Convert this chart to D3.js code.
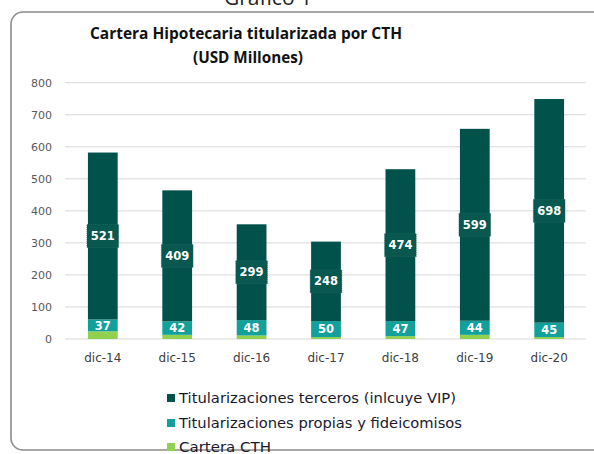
<!DOCTYPE html>
<html><head><meta charset="utf-8">
<script src="https://cdn.jsdelivr.net/npm/d3@7"></script>
<style>body{margin:0;background:#fff;}svg{display:block;}</style>
</head><body>
<svg id="c" width="594" height="454"></svg>
<script>
const categories = ["dic-14","dic-15","dic-16","dic-17","dic-18","dic-19","dic-20"];
const cartera = [24, 13, 11, 6, 9, 13, 6];
const propias = [37, 42, 48, 50, 47, 44, 45];
const terceros = [521, 409, 299, 248, 474, 599, 698];
const yTicks = [0,100,200,300,400,500,600,700,800];
const seriesNames = ["Titularizaciones terceros (inlcuye VIP)","Titularizaciones propias y fideicomisos","Cartera CTH"];
const colors = {terceros:"#00524A", propias:"#12A09A", cartera:"#92D050"};

const svg = d3.select("#c");
// outer frame
svg.append("rect").attr("x",11).attr("y",12).attr("width",620).attr("height",438)
  .attr("rx",12).attr("fill","none").attr("stroke","#8c8c8c").attr("stroke-width",1.6);
svg.append("text").attr("x",268).attr("y",5).attr("text-anchor","middle")
  .attr("font-family","Open Sans, sans-serif").attr("font-size",21).attr("fill","#222").text("Gráfico 1");

svg.append("text").attr("x",246).attr("y",39).attr("text-anchor","middle")
  .attr("font-family","Open Sans, sans-serif").attr("font-weight","bold").attr("font-size",15.5)
  .attr("textLength",312).attr("lengthAdjust","spacingAndGlyphs").attr("fill","#111")
  .text("Cartera Hipotecaria titularizada por CTH");
svg.append("text").attr("x",248).attr("y",63).attr("text-anchor","middle")
  .attr("font-family","Open Sans, sans-serif").attr("font-weight","bold").attr("font-size",15.5)
  .attr("textLength",110).attr("lengthAdjust","spacingAndGlyphs").attr("fill","#111")
  .text("(USD Millones)");

const x = d3.scaleBand().domain(categories).range([65.6,586.4]).paddingInner(0.6).paddingOuter(0.3);
const y = d3.scaleLinear().domain([0,800]).range([339,82.7]);

// gridlines
svg.append("g").selectAll("line").data(yTicks).join("line")
  .attr("x1",65).attr("x2",586).attr("y1",d=>y(d)).attr("y2",d=>y(d))
  .attr("stroke","#d9d9d9").attr("stroke-width",1);

// y axis labels
const yAxis = d3.axisLeft(y).tickValues(yTicks).tickSize(0).tickPadding(0);
const gy = svg.append("g").attr("transform","translate(52,0)").call(yAxis);
gy.select(".domain").remove();
gy.selectAll("text").attr("font-family","DejaVu Sans, sans-serif").attr("font-size",11).attr("fill","#595959");

// x axis labels
const xAxis = d3.axisBottom(x).tickSize(0).tickPadding(0);
const gx = svg.append("g").attr("transform","translate(0,353)").call(xAxis);
gx.select(".domain").remove();
gx.selectAll("text").attr("font-family","DejaVu Sans, sans-serif").attr("font-size",12).attr("fill","#404040").attr("dy","0.71em");

const data = categories.map((c,i)=>({cat:c, cartera:cartera[i], propias:propias[i], terceros:terceros[i]}));
const stack = d3.stack().keys(["cartera","propias","terceros"])(data);

const g = svg.append("g");
stack.forEach(layer=>{
  g.append("g").selectAll("rect").data(layer).join("rect")
    .attr("x",d=>x(d.data.cat)).attr("width",x.bandwidth())
    .attr("y",d=>y(d[1])).attr("height",d=>y(d[0])-y(d[1]))
    .attr("fill",colors[layer.key]);
});

// labels
const lab = svg.append("g");
stack.filter(l=>l.key!=="cartera").forEach(layer=>{
  layer.forEach(d=>{
    const cx = x(d.data.cat)+x.bandwidth()/2;
    const cy = y((d[0]+d[1])/2);
    if(layer.key==="terceros"){
      lab.append("rect").attr("x",cx-x.bandwidth()/2-1).attr("y",cy-11.5).attr("width",x.bandwidth()+2).attr("height",23)
        .attr("fill","#085850").attr("stroke","#2a7068").attr("stroke-width",0.6).attr("stroke-dasharray","1,1");
    }
    lab.append("text").attr("x",cx).attr("y",cy).attr("dy","0.36em").attr("text-anchor","middle")
      .attr("font-family","DejaVu Sans, sans-serif").attr("font-weight","bold").attr("font-size",11.5)
      .attr("fill","#fff").text(d.data[layer.key]);
  });
});

// legend
const leg = svg.append("g");
const legColors = [colors.terceros, colors.propias, colors.cartera];
const legY = [398, 423, 447];
const legW = [277, 283, 92];
seriesNames.forEach((n,i)=>{
  leg.append("rect").attr("x",167).attr("y",legY[i]-4).attr("width",8).attr("height",8).attr("fill",legColors[i]);
  leg.append("text").attr("x",179).attr("y",legY[i]).attr("dy","0.36em")
    .attr("font-family","DejaVu Sans, sans-serif").attr("font-size",14).attr("fill","#1a1a2e")
    .attr("textLength",legW[i]).attr("lengthAdjust","spacingAndGlyphs").text(n);
});
</script>
</body></html>
